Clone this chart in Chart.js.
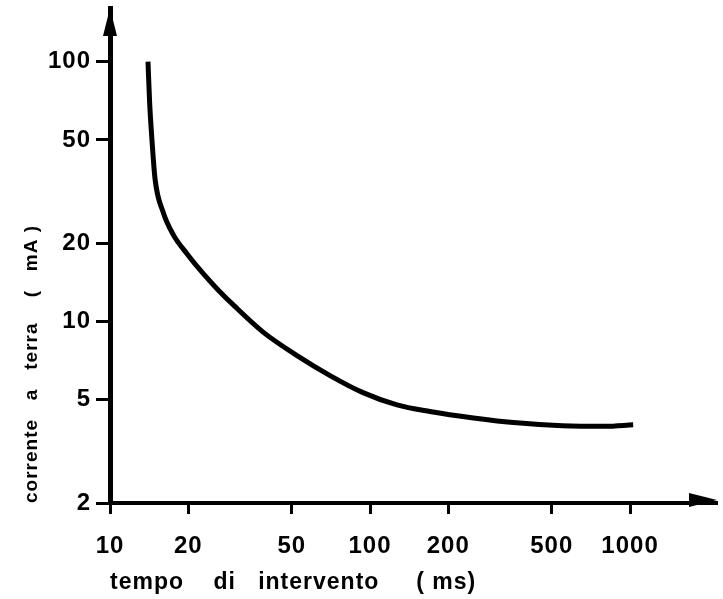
<!DOCTYPE html>
<html>
<head>
<meta charset="utf-8">
<script src="https://cdn.jsdelivr.net/npm/chart.js@4/dist/chart.umd.min.js"></script>
<style>
    html, body { margin: 0; padding: 0; background: #fff; }
    #contenitore { width: 723px; height: 599px; }
</style>
</head>
<body>
<div id="contenitore"><canvas id="myChart"></canvas></div>
<script>
// Dati (scala log-log)
const tempi = [14.0, 14.2, 14.5, 14.9, 16.0, 17.5, 19.8, 22.8, 26.0, 30.0, 38.8, 52.4, 70.2, 94, 127, 170, 250, 367, 550, 800, 1028];
const correnti = [100, 70, 50, 35.4, 26.4, 21.6, 18.2, 15.3, 13.25, 11.5, 9.1, 7.39, 6.19, 5.32, 4.77, 4.5, 4.25, 4.07, 3.97, 3.95, 4.0];

const tickTempi = [10, 20, 50, 100, 200, 500, 1000];
const tickCorrenti = [2, 5, 10, 20, 50, 100];

const titoloX = "tempo    di   intervento     ( ms)";
const titoloY = "corrente   a   terra    (   mA )";

let myChart;

// Spaziatura delle lettere, come nel disegno originale
const spaziatura = {
    id: "spaziatura",
    beforeDraw(chart) { chart.ctx.letterSpacing = "1px"; },
    afterDraw(chart) { chart.ctx.letterSpacing = "0px"; }
};

// Frecce in cima agli assi
const frecce = {
    id: "frecce",
    afterDraw(chart) {
        const ctx = chart.ctx;
        const area = chart.chartArea;
        ctx.save();
        ctx.fillStyle = "#000";
        // asse y
        ctx.beginPath();
        ctx.moveTo(area.left, area.top);
        ctx.lineTo(area.left - 7, area.top + 28);
        ctx.lineTo(area.left + 7, area.top + 28);
        ctx.closePath();
        ctx.fill();
        // asse x
        ctx.beginPath();
        ctx.moveTo(area.right, area.bottom - 3);
        ctx.lineTo(area.right - 28, area.bottom - 10);
        ctx.lineTo(area.right - 28, area.bottom + 4);
        ctx.closePath();
        ctx.fill();
        ctx.restore();
    }
};

function creaGrafico() {
    const punti = tempi.map((t, i) => ({ x: t, y: correnti[i] }));
    const ctx = document.getElementById("myChart").getContext("2d");
    const fontTick = { family: "Liberation Sans", weight: "bold", size: 24 };

    myChart = new Chart(ctx, {
        type: "line",
        data: {
            datasets: [{
                data: punti,
                borderColor: "#000",
                borderWidth: 5,
                pointRadius: 0,
                fill: false,
                cubicInterpolationMode: "monotone"
            }]
        },
        options: {
            responsive: true,
            maintainAspectRatio: false,
            animation: false,
            layout: { padding: { top: 8, right: 6, bottom: 0, left: 0 } },
            plugins: { legend: { display: false }, tooltip: { enabled: false } },
            scales: {
                x: {
                    type: "logarithmic",
                    min: 10,
                    max: 2160,
                    afterBuildTicks: scale => { scale.ticks = tickTempi.map(v => ({ value: v })); },
                    afterFit: scale => {
                        scale.height = 96;
                        scale.paddingLeft = 0;
                        scale.paddingRight = 0;
                    },
                    grid: { drawOnChartArea: false, tickLength: 11, tickWidth: 3, tickColor: "#000", color: "#000" },
                    border: { color: "#000", width: 4 },
                    ticks: {
                        color: "#000",
                        font: fontTick,
                        padding: 18,
                        autoSkip: false,
                        maxRotation: 0,
                        callback: v => String(v)
                    },
                    title: {
                        display: true,
                        text: titoloX,
                        align: "start",
                        color: "#000",
                        font: { family: "Liberation Sans", weight: "bold", size: 23 },
                        padding: { top: 0, bottom: 3 }
                    }
                },
                y: {
                    type: "logarithmic",
                    min: 2,
                    max: 161,
                    afterBuildTicks: scale => { scale.ticks = tickCorrenti.map(v => ({ value: v })); },
                    afterFit: scale => {
                        scale.width = 110;
                        scale.paddingTop = 0;
                        scale.paddingBottom = 0;
                    },
                    grid: { drawOnChartArea: false, tickLength: 14, tickWidth: 3, tickColor: "#000", color: "#000" },
                    border: { color: "#000", width: 5 },
                    ticks: {
                        color: "#000",
                        font: fontTick,
                        padding: 5,
                        autoSkip: false,
                        callback: v => String(v)
                    },
                    title: {
                        display: true,
                        text: titoloY,
                        align: "start",
                        color: "#000",
                        font: { family: "Liberation Sans", weight: "bold", size: 19 },
                        padding: { top: 20, bottom: 0 }
                    }
                }
            }
        },
        plugins: [spaziatura, frecce]
    });
}

creaGrafico();
</script>
</body>
</html>
